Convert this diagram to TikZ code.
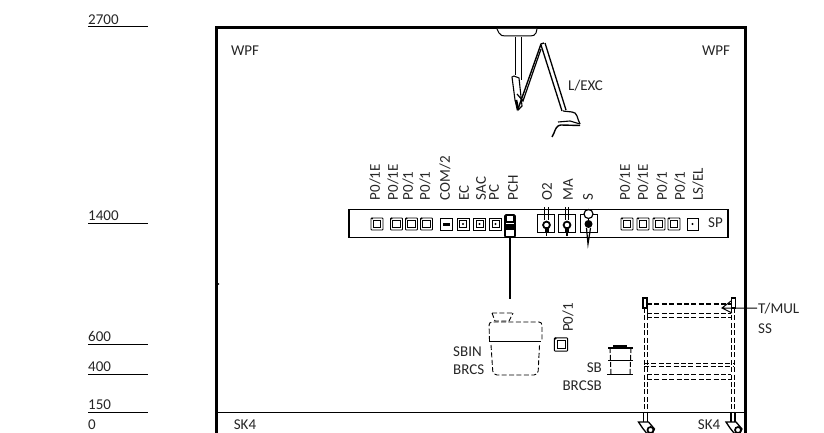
\documentclass[tikz,border=0pt]{standalone}
\usepackage{fontspec}
\setmainfont{Carlito}
\tikzset{
  lab/.style={font=\fontsize{15}{16}\selectfont,inner sep=0pt,text=black!85},
  rlab/.style={lab,rotate=90,anchor=west},
  thin line/.style={line width=1pt},
  dash line/.style={line width=.9pt,dash pattern=on 5pt off 2.4pt},
  pics/outlet/.style={code={
    \draw[line width=.9pt,rounded corners=.8pt] (-6,-6) rectangle (6,6);
    \draw[line width=.9pt] (-3.6,-3.6) rectangle (3.6,3.6);
    \fill (-5,-5.5) circle (1);}},
  pics/data/.style={code={
    \draw[line width=.9pt] (-6,-6) rectangle (6,6);
    \draw[line width=.8pt] (-3.6,-3.6) rectangle (3.6,3.6);
    \fill (0,0) circle (1.2);}},
  pics/caster/.style={code={
    \draw[line width=1.1pt] (-2,-10)--(-2,0) (2,-10)--(2,0);
    \draw[line width=1.3pt,fill=white] (-7,0)--(3,0)--(9,7)--(7,11)--(1,11)--(-3,6)--cycle;
    \draw[line width=1.7pt] (5,8) circle (3);}}
}
\begin{document}
\begin{tikzpicture}[x=1pt,y=-1pt]
\useasboundingbox (0,0) rectangle (824,433);
\clip (0,0) rectangle (824,433);
% scale
\foreach \t/\y/\n in {2700/27/a,1400/223/b,600/344/c,400/374/d,150/412/e}{
  \draw[thin line] (88,\y)--(148,\y);
  \node[lab,anchor=south west] (sc\n) at (88,\y-2) {\t};
}
\node[lab,anchor=west] (sc0) at (88,425) {0};
% room
\draw[line width=3.6pt] (216.5,433)--(216.5,27.5)--(745.5,27.5)--(745.5,433);
\draw[thin line] (217,412)--(745,412);
\fill (218.5,284) circle (.8);
\node[lab] (wl) at (245,51) {WPF};
\node[lab] (wr) at (716,51) {WPF};
\node[lab] (sk1) at (245,425) {SK4};
\node[lab] (sk2) at (709,425) {SK4};
% lamp
\draw[thin line,fill=white] (497,29)--(499,33) to[out=-70,in=180] (506,36)--(530,36) to[out=0,in=-110] (536,33)--(537,29);
\draw[line width=1pt] (515,37)--(515,75) (521,37)--(521,80);
\draw[line width=1.1pt] (514,76)--(512,77)--(515,100)--(518,110)--(522,106)--(519,78)--cycle;
\draw[line width=1.4pt] (518,109)--(541,44)--(544,43);
\draw[line width=1.2pt] (517,94)--(523,101)--(541,49);
\draw[line width=1.3pt] (541,45)--(562,111) (545,43)--(566,110);
\draw[line width=2.6pt] (516,100)--(518,110);
\draw[line width=1.2pt] (563,111)--(572,112) to[out=0,in=120] (580,124);
\draw[line width=1.4pt] (580,125.5)--(561,125) to[out=180,in=70] (554,133)--(552,137);
\draw[line width=1.1pt] (558,122)--(570,121)--(580,124);
\node[lab,anchor=west] (lexc) at (568,86) {L/EXC};
% panel
\draw[line width=1.1pt] (349,209.5) rectangle (728,237.5);
\node[lab,anchor=east] (sp) at (723,223) {SP};
% panel labels
\foreach \t/\x/\n in {{P0/1E}/375/a,{P0/1E}/393/b,{P0/1}/408/c,{P0/1}/425/d,{COM/2}/445/e,EC/464/f,SAC/481/g,PC/494/h,PCH/513/i,O2/547/j,MA/568/k,S/588/l,{P0/1E}/625/m,{P0/1E}/643/n,{P0/1}/662/o,{P0/1}/680/p,{LS/EL}/698/q}{
  \node[rlab] (t\n) at (\x,200.5) {\t};
}
% outlets
\foreach \x in {377,396.5,411.5,426.5,627,643,659,674}{ \pic at (\x,224) {outlet}; }
\draw[line width=.9pt] (440,218.5) rectangle (452,230);
\fill (442.5,222.5) rectangle (449.5,226);
\foreach \x in {463,479.5,495.5}{ \pic at (\x,224) {data}; }
\draw[line width=.9pt] (687,218.5) rectangle (698,230); \fill (692.5,224) circle (1.2);
% PCH plug and cord
\draw[line width=1.6pt,rounded corners=1pt] (505,215) rectangle (515,237);
\fill (505,224) rectangle (515,230);
\draw[line width=1.3pt] (506,216)--(506,222)--(514,222)--(514,216);
\draw[line width=2.2pt] (510,237)--(510,299);
% gas outlets
\foreach \x in {537,558,580}{ \draw[line width=1pt] (\x,214.5) rectangle (\x+17,232); }
\foreach \x in {546.5,567}{
  \draw[line width=1pt,fill=white] (\x-1.8,207)--(\x-1.8,220) (\x+1.8,207)--(\x+1.8,220);
  \draw[line width=1.8pt,fill=white] (\x,225) circle (3.4);
  \fill (\x-2,227) rectangle (\x+2,232);
  \draw[line width=1.5pt] (\x,232)--(\x,236);
}
\draw[line width=1.2pt,fill=white] (588.5,214) circle (4.5);
\fill (588.5,224) circle (4);
\draw[line width=1.2pt] (586.5,228)--(588,244)--(590.5,228);
\draw[line width=1.4pt] (588.5,218)--(588.5,222);
% waste bin
\draw[dash line] (492,313)--(513,313) (492,313)--(495,321)--(509,321)--(513,313);
\draw[dash line,rounded corners=3pt] (489.5,341)--(489,322)--(542,322)--(542,341);
\draw[line width=1.3pt] (489,341.5)--(541,341.5);
\draw[dash line,rounded corners=4pt] (491,345)--(493,375)--(538,375)--(539.5,345);
\node[lab,anchor=west] (sbin) at (453,352) {SBIN};
\node[lab,anchor=west] (brcs) at (453,370) {BRCS};
% P0/1 outlet
\pic[scale=1.1] at (561,344.5) {outlet};
\node[rlab] (p01) at (568,332) {P0/1};
% small bin
\draw[line width=2.2pt] (613,346)--(627,346);
\draw[line width=1.3pt] (608,348)--(633,348);
\draw[line width=1pt,dash pattern=on 5pt off 2pt] (610,348)--(611,374) (631,348)--(630,374);
\draw[line width=1pt] (608,360)--(633,360);
\draw[line width=1pt] (607,374.5)--(633,374.5);
\node[lab,anchor=east] (sb) at (602,368) {SB};
\node[lab,anchor=east] (brcsb) at (602,386) {BRCSB};
% trolley
\foreach \x in {644,647,731,734.5}{ \draw[dash line] (\x,308)--(\x,412); }
\draw[line width=1.1pt] (643,298) rectangle (647,308);
\draw[line width=1.1pt] (731.5,298) rectangle (735.5,308);
\draw[dash line,line width=1.6pt] (647,304)--(732,304);
\draw[dash line] (647,313)--(731,313) (647,317)--(731,317);
\draw[dash line] (644,363)--(734,363) (644,366)--(734,366);
\draw[dash line] (647,374.5)--(731,374.5) (647,379)--(731,379);
\draw[line width=.9pt] (647,312.5)--(647,317.5) (647,374)--(647,379.5);
\pic at (645.5,422) {caster};
\pic at (733,422) {caster};
% leader
\coordinate (lead) at (757,308);
\draw[thin line] (731,301)--(722,308)--(732,313) (722,308)--(lead);
\node[lab,anchor=west] (tm) at (758,309) {T/MUL};
\node[lab,anchor=west] (ss) at (758,329) {SS};
\end{tikzpicture}
\end{document}
